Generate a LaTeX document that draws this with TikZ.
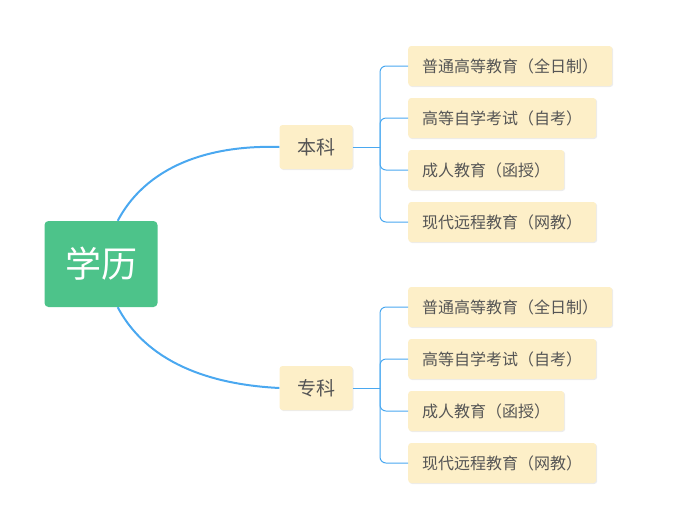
\documentclass[tikz,border=0pt]{standalone}
\usepackage{fontspec}
\setmainfont{Noto Sans CJK SC}
\usetikzlibrary{shadows}
\definecolor{rootgreen}{HTML}{4DC38A}
\definecolor{linkblue}{HTML}{4AA8F0}
\definecolor{leafbg}{HTML}{FDEFC8}
\definecolor{txtgray}{HTML}{555555}
\tikzset{
  leafbox/.style={fill=leafbg,rounded corners=3pt,minimum height=40pt,anchor=west,
    text=txtgray,font=\fontsize{16}{16}\selectfont,inner xsep=14pt,
    drop shadow={shadow xshift=1pt,shadow yshift=-1pt,fill=black!15}},
  midbox/.style={leafbox,anchor=center,minimum width=73pt,minimum height=44pt,inner xsep=0pt,
    font=\fontsize{19}{19}\selectfont},
  link/.style={draw=linkblue,line width=1pt}
}
\begin{document}
\begin{tikzpicture}[x=1pt,y=-1pt]
\useasboundingbox (0,0) rectangle (684,531);
\node[fill=rootgreen,rounded corners=4pt,minimum width=113pt,minimum height=86pt,
  text=white,font=\fontsize{36}{36}\selectfont] (root) at (101,264) {学历};
\node[midbox] (ben) at (316,147) {本科};
\node[midbox] (zhuan) at (316,388) {专科};
\draw[link,line width=2pt] (root.north east) ++(-40,0) coordinate (r1) .. controls (150,160) and (220,145) .. (ben.west);
\draw[link,line width=2pt] (root.south east) ++(-40,0) coordinate (r2) .. controls (150,368) and (220,385) .. (zhuan.west);
\foreach \grp/\y in {ben/66,zhuan/307}{
  \node[leafbox] (\grp1) at (408,\y) {普通高等教育（全日制）};
  \node[leafbox] (\grp2) at (408,\y+52) {高等自学考试（自考）};
  \node[leafbox] (\grp3) at (408,\y+104) {成人教育（函授）};
  \node[leafbox] (\grp4) at (408,\y+156) {现代远程教育（网教）};
  \coordinate (\grp j) at (380,0 |- \grp.east);
  \draw[link] (\grp.east) -- (\grp j);
  \foreach \i in {1,...,4}
    \draw[link,rounded corners=6pt] (\grp j) |- (\grp\i.west);
}
\end{tikzpicture}
\end{document}
